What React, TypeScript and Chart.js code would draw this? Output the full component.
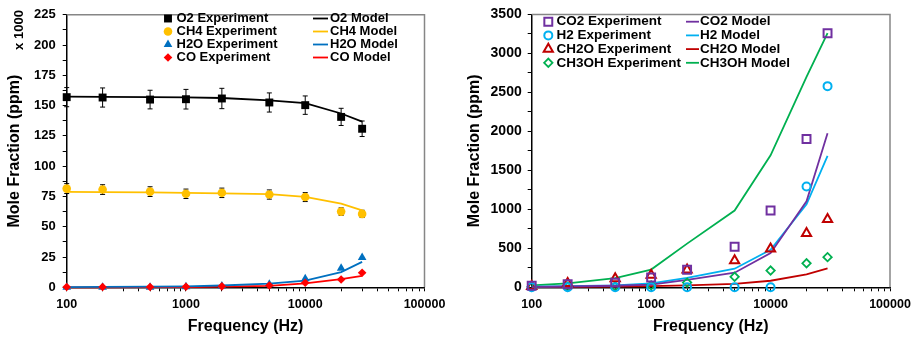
import React, { useEffect, useRef } from 'react';
import { Chart, registerables } from 'chart.js';

Chart.register(...registerables);

// ---------- shared data ----------
const frequencies = [100, 200, 500, 1000, 2000, 5000, 10000, 20000, 30000];
const logTickValues = [
  100, 200, 300, 400, 500, 600, 700, 800, 900,
  1000, 2000, 3000, 4000, 5000, 6000, 7000, 8000, 9000,
  10000, 20000, 30000, 40000, 50000, 60000, 70000, 80000, 90000,
  100000,
];
const decadeLabels = [100, 1000, 10000, 100000];

// ---------- left chart data (x 1000 ppm) ----------
const leftYTicks = [0, 25, 50, 75, 100, 125, 150, 175, 200, 225];
const o2Exp = [157, 156.7, 155, 155.3, 155.9, 152.6, 150.4, 140.7, 130.9];
const o2Err = [7.9, 7.9, 7.7, 8.1, 8.4, 7.9, 7.6, 7.1, 6.4];
const o2Model = [157.5, 157.3, 157, 156.8, 156.3, 154.3, 152, 143.5, 136.8];
const ch4Exp = [81.5, 80.7, 79, 77.2, 78, 76.6, 74.5, 62.5, 60.6];
const ch4Err = [4.1, 4.0, 4.0, 3.9, 3.9, 3.8, 3.7, 3.1, 3.0];
const ch4Model = [78.8, 78.6, 78.4, 78, 77.6, 77, 74.7, 69, 63.6];
const h2oExp = [0, 0, 0, 0.5, 1, 2.5, 7, 15.8, 24.7];
const h2oModel = [0.2, 0.3, 0.5, 0.8, 1.5, 3, 5.5, 12.5, 21];
const coExp = [0.2, 0.3, 0.3, 0.5, 0.8, 1.5, 3.8, 6.5, 12];
const coModel = [0, 0, 0.1, 0.2, 0.5, 1.2, 3.3, 6.8, 9.5];
const leftNames = ['O2', 'CH4', 'H2O', 'CO'];

// ---------- right chart data (ppm) ----------
const rightYTicks = [0, 500, 1000, 1500, 2000, 2500, 3000, 3500];
const co2Exp = [20, 40, 60, 125, 225, 521, 985, 1903, 3258];
const co2Model = [5, 10, 20, 35, 95, 187, 438, 1103, 1975];
const h2Exp = [0, 0, 0, 0, 0, 0, 0, 1292, 2580];
const h2Model = [8, 15, 25, 50, 120, 238, 480, 1065, 1685];
const ch2oExp = [12, 50, 112, 157, 225, 342, 494, 692, 873];
const ch2oModel = [3, 5, 10, 15, 25, 43, 84, 165, 242];
const ch3ohExp = [8, 8, 12, 25, 60, 135, 215, 308, 387];
const ch3ohModel = [25, 50, 118, 227, 560, 985, 1693, 2700, 3260];
const rightNames = ['CO2', 'H2', 'CH2O', 'CH3OH'];

const FONT = '"Liberation Sans", Arial, Helvetica, sans-serif';

const pts = (ys: number[]) => frequencies.map((x, i) => ({ x, y: ys[i] }));

type Marker = { style: string; radius: number; fill: string; stroke: string; width: number };

function drawMarker(ctx: CanvasRenderingContext2D, m: Marker, x: number, y: number) {
  const r = m.radius;
  ctx.save();
  ctx.beginPath();
  if (m.style === 'rect') {
    const s = Math.SQRT1_2 * r;
    ctx.rect(x - s, y - s, 2 * s, 2 * s);
  } else if (m.style === 'circle') {
    ctx.arc(x, y, r, 0, Math.PI * 2);
  } else if (m.style === 'triangle') {
    let rad = 0;
    ctx.moveTo(x + Math.sin(rad) * r, y - Math.cos(rad) * r);
    rad += (2 * Math.PI) / 3;
    ctx.lineTo(x + Math.sin(rad) * r, y - Math.cos(rad) * r);
    rad += (2 * Math.PI) / 3;
    ctx.lineTo(x + Math.sin(rad) * r, y - Math.cos(rad) * r);
    ctx.closePath();
  } else {
    ctx.moveTo(x - r, y);
    ctx.lineTo(x, y - r);
    ctx.lineTo(x + r, y);
    ctx.lineTo(x, y + r);
    ctx.closePath();
  }
  ctx.fillStyle = m.fill;
  ctx.fill();
  if (m.width > 0) {
    ctx.lineWidth = m.width;
    ctx.strokeStyle = m.stroke;
    ctx.stroke();
  }
  ctx.restore();
}

type LegendCfg = {
  names: string[];
  markers: Marker[];
  colors: string[];
  fontSize: number;
  markerX: number;
  textX: number;
  y0: number;
  dy: number;
  lineX0: number;
  lineX1: number;
  modelTextX: number;
};

function makeLegendPlugin(cfg: LegendCfg) {
  return {
    id: 'customLegend',
    afterDraw(chart: any) {
      const ctx: CanvasRenderingContext2D = chart.ctx;
      ctx.save();
      ctx.font = `bold ${cfg.fontSize}px ${FONT}`;
      ctx.textBaseline = 'middle';
      ctx.textAlign = 'left';
      cfg.names.forEach((name, i) => {
        const y = cfg.y0 + i * cfg.dy;
        drawMarker(ctx, cfg.markers[i], cfg.markerX, y);
        ctx.fillStyle = '#000';
        ctx.fillText(`${name} Experiment`, cfg.textX, y);
        ctx.beginPath();
        ctx.strokeStyle = cfg.colors[i];
        ctx.lineWidth = 1.8;
        ctx.moveTo(cfg.lineX0, y);
        ctx.lineTo(cfg.lineX1, y);
        ctx.stroke();
        ctx.fillStyle = '#000';
        ctx.fillText(`${name} Model`, cfg.modelTextX, y);
      });
      ctx.restore();
    },
  };
}

const framePlugin = {
  id: 'frame',
  afterDraw(chart: any) {
    const { ctx, chartArea } = chart;
    ctx.save();
    ctx.strokeStyle = '#868686';
    ctx.lineWidth = 1.5;
    ctx.beginPath();
    ctx.moveTo(chartArea.left, chartArea.top);
    ctx.lineTo(chartArea.right, chartArea.top);
    ctx.lineTo(chartArea.right, chartArea.bottom);
    ctx.stroke();
    ctx.restore();
  },
};

const errorBarPlugin = {
  id: 'errorBars',
  beforeDatasetsDraw(chart: any) {
    const ctx: CanvasRenderingContext2D = chart.ctx;
    const xs = chart.scales.x;
    const ys = chart.scales.y;
    ctx.save();
    ctx.strokeStyle = '#000';
    ctx.lineWidth = 1;
    chart.data.datasets.forEach((ds: any) => {
      if (!ds.errors) return;
      ds.data.forEach((p: any, i: number) => {
        const e = ds.errors[i];
        const x = xs.getPixelForValue(p.x);
        const yt = ys.getPixelForValue(p.y + e);
        const yb = ys.getPixelForValue(p.y - e);
        ctx.beginPath();
        ctx.moveTo(x, yt);
        ctx.lineTo(x, yb);
        ctx.moveTo(x - 2.5, yt);
        ctx.lineTo(x + 2.5, yt);
        ctx.moveTo(x - 2.5, yb);
        ctx.lineTo(x + 2.5, yb);
        ctx.stroke();
      });
    });
    ctx.restore();
  },
};

const scaleLabelPlugin = {
  id: 'scaleLabel',
  afterDraw(chart: any) {
    const ctx: CanvasRenderingContext2D = chart.ctx;
    ctx.save();
    ctx.translate(19, 30);
    ctx.rotate(-Math.PI / 2);
    ctx.font = `bold 13px ${FONT}`;
    ctx.fillStyle = '#000';
    ctx.textAlign = 'center';
    ctx.textBaseline = 'middle';
    ctx.fillText('x 1000', 0, 0);
    ctx.restore();
  },
};

function expDataset(label: string, ys: number[], m: Marker, errors?: number[]) {
  return {
    label,
    data: pts(ys),
    showLine: false,
    pointStyle: m.style,
    pointRadius: m.radius,
    pointHoverRadius: m.radius,
    pointBackgroundColor: m.fill,
    pointBorderColor: m.stroke,
    pointBorderWidth: m.width,
    borderColor: m.stroke,
    backgroundColor: m.fill,
    clip: false,
    errors,
  };
}

function modelDataset(label: string, ys: number[], color: string) {
  return {
    label,
    data: pts(ys),
    showLine: true,
    borderColor: color,
    backgroundColor: color,
    borderWidth: 1.8,
    pointRadius: 0,
    tension: 0,
    clip: false,
  };
}

function makeOptions(p: {
  yMax: number;
  yStep: number;
  yLabels: number[];
  yWidth: number;
  yTickFont: number;
  yTickPad: number;
  top: number;
  right: number;
}) {
  const yVals: number[] = [];
  for (let v = 0; v <= p.yMax + 1e-9; v += p.yStep) yVals.push(v);
  return {
    responsive: false,
    animation: false as const,
    events: [] as any[],
    layout: { padding: { top: p.top, right: p.right, left: 0, bottom: 0 } },
    plugins: { legend: { display: false }, tooltip: { enabled: false } },
    scales: {
      x: {
        type: 'logarithmic' as const,
        min: 100,
        max: 100000,
        afterBuildTicks: (s: any) => {
          s.ticks = logTickValues.map((v) => ({ value: v, major: decadeLabels.includes(v) }));
        },
        afterFit: (s: any) => {
          s.height = 54.7;
        },
        ticks: {
          autoSkip: false,
          maxRotation: 0,
          minRotation: 0,
          padding: 6,
          color: '#000',
          font: { family: FONT, size: 12.5, weight: 'bold' as const },
          callback: (v: any) => (decadeLabels.includes(Number(v)) ? String(v) : ''),
        },
        grid: { drawOnChartArea: false, drawTicks: true, tickLength: 4, color: '#000', tickWidth: 1 },
        border: { color: '#000', width: 1.5 },
        title: {
          display: true,
          text: 'Frequency (Hz)',
          color: '#000',
          font: { family: FONT, size: 16, weight: 'bold' as const },
          padding: { top: 0, bottom: 6 },
        },
      },
      y: {
        type: 'linear' as const,
        min: 0,
        max: p.yMax,
        afterBuildTicks: (s: any) => {
          s.ticks = yVals.map((v) => ({ value: v }));
        },
        afterFit: (s: any) => {
          s.width = p.yWidth;
        },
        ticks: {
          autoSkip: false,
          padding: p.yTickPad,
          color: '#000',
          font: { family: FONT, size: p.yTickFont, weight: 'bold' as const },
          callback: (v: any) => (p.yLabels.includes(Number(v)) ? String(v) : ''),
        },
        grid: { drawOnChartArea: false, drawTicks: true, tickLength: 4, color: '#000', tickWidth: 1 },
        border: { color: '#000', width: 1.5 },
        title: {
          display: true,
          text: 'Mole Fraction (ppm)',
          color: '#000',
          font: { family: FONT, size: 16, weight: 'bold' as const },
          padding: { top: 4.5, bottom: 0 },
        },
      },
    },
  };
}

// left markers & colors
const leftColors = ['#000000', '#FFC000', '#0070C0', '#FF0000'];
const leftMarkers: Marker[] = [
  { style: 'rect', radius: 5.6, fill: '#000000', stroke: '#000000', width: 0 },
  { style: 'circle', radius: 4.3, fill: '#FFC000', stroke: '#FFC000', width: 0 },
  { style: 'triangle', radius: 5, fill: '#0070C0', stroke: '#0070C0', width: 0 },
  { style: 'rectRot', radius: 4.3, fill: '#FF0000', stroke: '#FF0000', width: 0 },
];

// right markers & colors
const rightColors = ['#7030A0', '#00B0F0', '#C00000', '#00B050'];
const rightMarkers: Marker[] = [
  { style: 'rect', radius: 5.6, fill: 'rgba(0,0,0,0)', stroke: '#7030A0', width: 2 },
  { style: 'circle', radius: 4, fill: 'rgba(0,0,0,0)', stroke: '#00B0F0', width: 2 },
  { style: 'triangle', radius: 5.3, fill: 'rgba(0,0,0,0)', stroke: '#C00000', width: 2 },
  { style: 'rectRot', radius: 4.2, fill: 'rgba(0,0,0,0)', stroke: '#00B050', width: 1.8 },
];

function LeftChart() {
  const ref = useRef<HTMLCanvasElement>(null);
  useEffect(() => {
    if (!ref.current) return;
    const exps = [o2Exp, ch4Exp, h2oExp, coExp];
    const models = [o2Model, ch4Model, h2oModel, coModel];
    const errs = [o2Err, ch4Err, undefined, undefined];
    const expSets = leftNames.map((n, i) => expDataset(`${n} Experiment`, exps[i], leftMarkers[i], errs[i] as any));
    const modelSets = leftNames.map((n, i) => modelDataset(`${n} Model`, models[i], leftColors[i]));
    const chart = new Chart(ref.current, {
      type: 'scatter',
      data: { datasets: [...expSets.slice().reverse(), ...modelSets] as any },
      options: makeOptions({
        yMax: 225,
        yStep: 12.5,
        yLabels: leftYTicks,
        yWidth: 66.7,
        yTickFont: 13,
        yTickPad: 7,
        top: 11,
        right: 35.5,
      }) as any,
      plugins: [
        errorBarPlugin,
        framePlugin,
        scaleLabelPlugin,
        makeLegendPlugin({
          names: leftNames,
          markers: leftMarkers,
          colors: leftColors,
          fontSize: 13,
          markerX: 168,
          textX: 176.5,
          y0: 18.5,
          dy: 13,
          lineX0: 313,
          lineX1: 328,
          modelTextX: 330,
        }),
      ],
    });
    return () => chart.destroy();
  }, []);
  return <canvas ref={ref} width={460} height={342} style={{ display: 'block', width: 460, height: 342 }} />;
}

function RightChart() {
  const ref = useRef<HTMLCanvasElement>(null);
  useEffect(() => {
    if (!ref.current) return;
    const exps = [co2Exp, h2Exp, ch2oExp, ch3ohExp];
    const models = [co2Model, h2Model, ch2oModel, ch3ohModel];
    const expSets = rightNames.map((n, i) => expDataset(`${n} Experiment`, exps[i], rightMarkers[i]));
    const modelSets = rightNames.map((n, i) => modelDataset(`${n} Model`, models[i], rightColors[i]));
    const chart = new Chart(ref.current, {
      type: 'scatter',
      data: { datasets: [...expSets, ...modelSets] as any },
      options: makeOptions({
        yMax: 3500,
        yStep: 250,
        yLabels: rightYTicks,
        yWidth: 71.7,
        yTickFont: 14,
        yTickPad: 6,
        top: 10,
        right: 30,
      }) as any,
      plugins: [
        framePlugin,
        makeLegendPlugin({
          names: rightNames,
          markers: rightMarkers,
          colors: rightColors,
          fontSize: 13.5,
          markerX: 88.3,
          textX: 96.5,
          y0: 21.7,
          dy: 13.7,
          lineX0: 226,
          lineX1: 239,
          modelTextX: 240,
        }),
      ],
    });
    return () => chart.destroy();
  }, []);
  return <canvas ref={ref} width={460} height={342} style={{ display: 'block', width: 460, height: 342 }} />;
}

export default function App() {
  return (
    <div
      style={{
        position: 'fixed',
        left: 0,
        top: 0,
        width: 920,
        height: 342,
        display: 'flex',
        background: '#ffffff',
        overflow: 'hidden',
      }}
    >
      <LeftChart />
      <RightChart />
    </div>
  );
}
